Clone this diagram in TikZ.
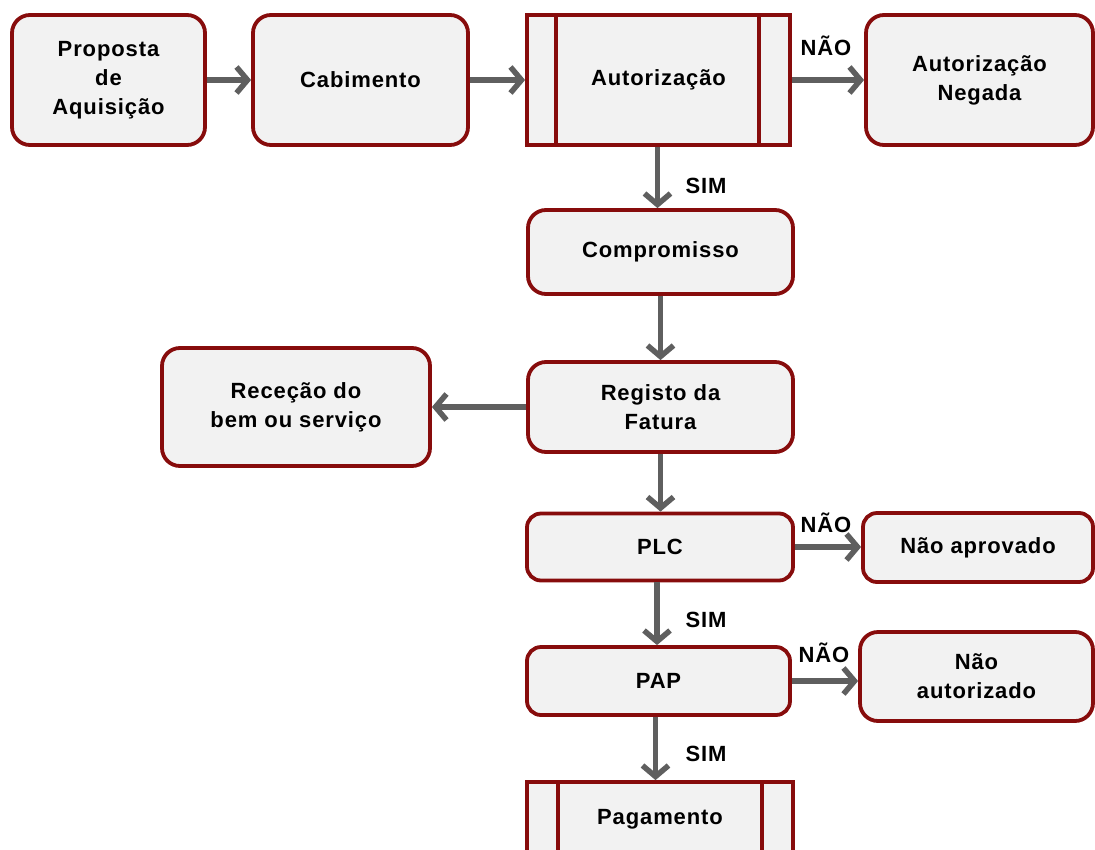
\documentclass[tikz,border=0pt]{standalone}
\usepackage{fontspec}
\setmainfont{Liberation Sans}
\usetikzlibrary{arrows.meta}
\definecolor{bord}{RGB}{135,12,12}
\definecolor{boxfill}{RGB}{242,242,242}
\definecolor{arr}{RGB}{95,95,95}
\newcommand{\boxfont}{\fontsize{22}{29}\selectfont\bfseries\addfontfeature{LetterSpace=4}}
\begin{document}
\begin{tikzpicture}[x=1pt,y=-1pt,
  box/.style={draw=bord, line width=3.8pt, fill=boxfill, rounded corners=18pt, align=center, font=\boxfont, inner sep=0pt},
  proc/.style={draw=bord, line width=3.8pt, fill=boxfill, align=center, font=\boxfont, inner sep=0pt},
  inner/.style={draw=bord, line width=3.8pt},
  flow/.style={draw=arr, line width=5.5pt, -{Straight Barb[length=11pt,width=26pt]}},
  lbl/.style={font=\boxfont, inner sep=0pt}]
\useasboundingbox (0,0) rectangle (1095,849);
\clip (0,0) rectangle (1095,849);
% nodes
\node[box, minimum width=193pt, minimum height=130pt] (prop) at (108.5,80) {Proposta\\de\\Aquisição};
\node[box, minimum width=215pt, minimum height=130pt] (cab) at (360.5,80) {Cabimento};
\node[proc, minimum width=263pt, minimum height=130pt] (aut) at (658.5,80) {Autorização};
\node[box, minimum width=227pt, minimum height=130pt] (neg) at (979.5,80) {Autorização\\Negada};
\node[box, minimum width=265pt, minimum height=84pt] (comp) at (660.5,252) {Compromisso};
\node[box, minimum width=265pt, minimum height=90pt] (reg) at (660.5,407) {Registo da\\Fatura};
\node[box, minimum width=268pt, minimum height=118pt] (rec) at (296,407) {Receção do\\bem ou serviço};
\node[box, rounded corners=14pt, minimum width=266pt, minimum height=67pt] (plc) at (660,547) {PLC};
\node[box, rounded corners=14pt, minimum width=230pt, minimum height=69pt] (naprov) at (978,547.5) {Não aprovado};
\node[box, rounded corners=14pt, minimum width=263pt, minimum height=68pt] (pap) at (658.5,681) {PAP};
\node[box, minimum width=233pt, minimum height=89pt] (naut) at (976.5,676.5) {Não\\autorizado};
\node[proc, minimum width=266pt, minimum height=74pt] (pag) at (660,819) {Pagamento};
% inner bars of predefined-process boxes
\draw[inner] ([xshift=31pt]aut.north west) -- ([xshift=31pt]aut.south west);
\draw[inner] ([xshift=-33pt]aut.north east) -- ([xshift=-33pt]aut.south east);
\draw[inner] ([xshift=33pt]pag.north west) -- ([xshift=33pt]pag.south west);
\draw[inner] ([xshift=-33pt]pag.north east) -- ([xshift=-33pt]pag.south east);
% connectors
\draw[flow] (prop.east) -- (cab.west);
\draw[flow] (cab.east) -- (aut.west);
\draw[flow] (aut.east) -- (neg.west);
\draw[flow] ([xshift=-1pt]aut.south) -- ([xshift=-1pt]aut.south |- comp.north);
\draw[flow] (comp.south) -- (comp.south |- reg.north);
\draw[flow] (reg.west) -- (rec.east);
\draw[flow] (reg.south) -- (reg.south |- plc.north);
\draw[flow] (plc.east) -- (plc.east -| naprov.west);
\draw[flow] ([xshift=-3pt]plc.south) -- ([xshift=-3pt]plc.south |- pap.north);
\draw[flow] (pap.east) -- (pap.east -| naut.west);
\draw[flow] ([xshift=-3pt]pap.south) -- ([xshift=-3pt]pap.south |- pag.north);
% labels
\node[lbl] (l1) at (826,46) {NÃO};
\node[lbl] (l2) at (706,186) {SIM};
\node[lbl] (l3) at (826,523) {NÃO};
\node[lbl] (l4) at (706,620) {SIM};
\node[lbl] (l5) at (824,653) {NÃO};
\node[lbl] (l6) at (706,754) {SIM};
\end{tikzpicture}
\end{document}
